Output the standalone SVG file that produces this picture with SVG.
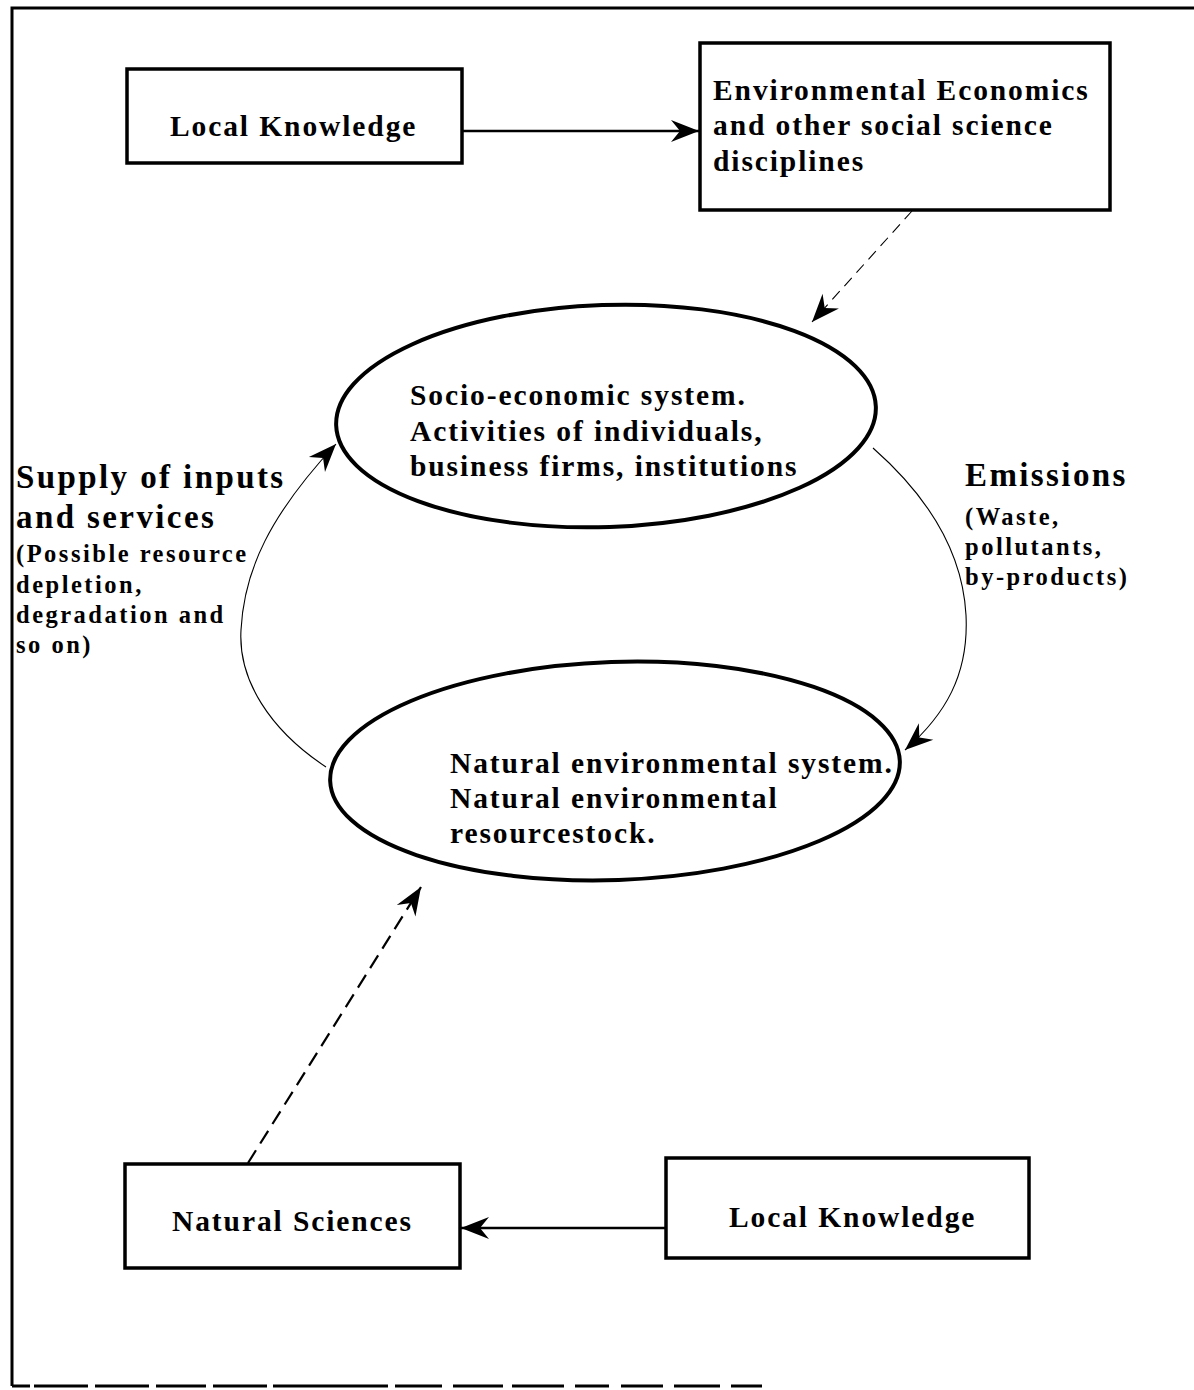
<svg xmlns="http://www.w3.org/2000/svg" width="1194" height="1390" viewBox="0 0 1194 1390">
<style>
  .box { fill: #fff; stroke: #000; stroke-width: 3.5; }
  .ell { fill: none; stroke: #000; stroke-width: 4; }
  .t { font-family: "Liberation Serif", "Times New Roman", serif; font-weight: bold; fill: #000; }
  .n { font-size: 29.5px; letter-spacing: 1.9px; }
  .big { font-size: 33px; letter-spacing: 2.4px; }
  .sm { font-size: 24.5px; letter-spacing: 2.5px; }
  .solid { fill: none; stroke: #000; stroke-width: 2.5; }
  .thin { fill: none; stroke: #000; stroke-width: 1.1; }
  .dash1 { fill: none; stroke: #000; stroke-width: 1.1; stroke-dasharray: 11 7; }
  .dash2 { fill: none; stroke: #000; stroke-width: 2.2; stroke-dasharray: 15 8; }
  .frame { fill: none; stroke: #000; stroke-width: 3; }
</style>
<defs>
  <marker id="ah" markerUnits="userSpaceOnUse" markerWidth="32" markerHeight="26" viewBox="-30 -13 32 26" refX="0" refY="0" orient="auto">
    <path d="M0,0 L-28,-11 L-19,0 L-28,11 Z" fill="#000"/>
  </marker>
</defs>

<g id="frame">
  <path class="frame" d="M12,1386 L12,8 L1194,8"/>
  <path class="frame" d="M12,1386 H30 M34,1386 H88 M95,1386 H149 M156,1386 H206 M213,1386 H267 M273,1386 H388 M395,1386 H442 M453,1386 H503 M512,1386 H564 M575,1386 H609 M621,1386 H663 M674,1386 H720 M731,1386 H762"/>
</g>

<g id="connectors">
  <line class="solid" x1="462" y1="131" x2="699" y2="131" marker-end="url(#ah)"/>
  <line class="dash1" x1="912" y1="211" x2="812" y2="322" marker-end="url(#ah)"/>
  <path class="thin" d="M873,448 C915,485 962,540 966,615 C969,675 945,715 905,750" marker-end="url(#ah)"/>
  <path class="thin" d="M326,767 C270,730 238,680 241,630 C244,570 270,515 336,444" marker-end="url(#ah)"/>
  <line class="dash2" x1="248" y1="1163" x2="421" y2="887" marker-end="url(#ah)"/>
  <line class="solid" x1="667" y1="1228" x2="461" y2="1228" marker-end="url(#ah)"/>
</g>

<g id="local-knowledge-top">
  <rect class="box" x="127" y="69" width="335" height="94"/>
  <text class="t n" x="170" y="136">Local Knowledge</text>
</g>

<g id="environmental-economics">
  <rect class="box" x="700" y="43" width="410" height="167"/>
  <text class="t n" x="713" y="100">Environmental Economics</text>
  <text class="t n" x="713" y="135">and other social science</text>
  <text class="t n" x="713" y="171">disciplines</text>
</g>

<g id="socio-economic-system">
  <ellipse class="ell" cx="606" cy="416" rx="270" ry="111" transform="rotate(-2 606 416)"/>
  <text class="t n" x="410" y="405">Socio-economic system.</text>
  <text class="t n" x="410" y="441">Activities of individuals,</text>
  <text class="t n" x="410" y="476">business firms, institutions</text>
</g>

<g id="natural-environmental-system">
  <ellipse class="ell" cx="615" cy="771" rx="285" ry="109" transform="rotate(-2 615 771)"/>
  <text class="t n" x="450" y="773">Natural environmental system.</text>
  <text class="t n" x="450" y="808">Natural environmental</text>
  <text class="t n" x="450" y="843">resourcestock.</text>
</g>

<g id="supply-label">
  <text class="t big" x="16" y="488">Supply of inputs</text>
  <text class="t big" x="16" y="528">and services</text>
  <text class="t sm" x="16" y="562">(Possible resource</text>
  <text class="t sm" x="16" y="593">depletion,</text>
  <text class="t sm" x="16" y="623">degradation and</text>
  <text class="t sm" x="16" y="653">so on)</text>
</g>

<g id="emissions-label">
  <text class="t big" x="965" y="486">Emissions</text>
  <text class="t sm" x="965" y="525">(Waste,</text>
  <text class="t sm" x="965" y="555">pollutants,</text>
  <text class="t sm" x="965" y="585">by-products)</text>
</g>

<g id="natural-sciences">
  <rect class="box" x="125" y="1164" width="335" height="104"/>
  <text class="t n" x="172" y="1231">Natural Sciences</text>
</g>

<g id="local-knowledge-bottom">
  <rect class="box" x="666" y="1158" width="363" height="100"/>
  <text class="t n" x="729" y="1227">Local Knowledge</text>
</g>
</svg>
